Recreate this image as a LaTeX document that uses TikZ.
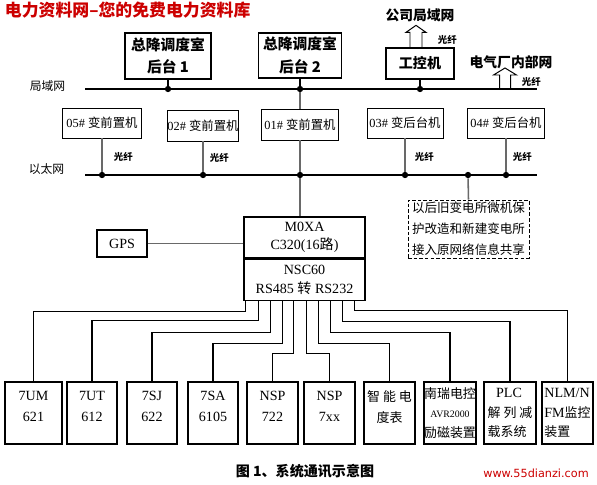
\documentclass[tikz,border=0pt]{standalone}
\usepackage{fontspec}
\setmainfont{Liberation Serif}
\newfontfamily\cjk{Noto Sans CJK SC}
\newfontfamily\urlfont{DejaVu Sans}
\usetikzlibrary{arrows.meta,positioning,calc}
\definecolor{sitered}{RGB}{204,0,0}
\definecolor{dropgray}{RGB}{105,105,105}
\newcommand{\pxl}{0.025cm}

\begin{document}
\begin{tikzpicture}[x=0.025cm,y=-0.025cm,node distance=0pt,
  box/.style 2 args={draw,line width=0.9pt,align=center,inner sep=0pt,
        minimum width=#1*\pxl,minimum height=#2*\pxl},
  bus/.style={line width=2pt},
  dot/.style={circle,fill,inner sep=0pt,minimum size=4.5pt},
  drop/.style={draw=dropgray,line width=1.1pt},
  wire/.style={line width=0.75pt},
  hollow/.style={line width=0.7pt,line join=miter},
  fiber/.style={anchor=west,font=\cjk\bfseries\fontsize{6.7}{8}\selectfont},
  netname/.style={font=\cjk\bfseries\fontsize{9.8}{12}\selectfont},
  cn/.style={font=\cjk\fontsize{8.4}{10}\selectfont},
  station/.style={line width=0.7pt,font=\fontsize{8.8}{10}\selectfont}]
  \useasboundingbox (0,0) rectangle (597,485);

  % Header
  \node[anchor=west,text=sitered,font=\cjk\bfseries\fontsize{12}{14}\selectfont]
        (title) at (0,10) {电力资料网–您的免费电力资料库};

  % Dispatch room and industrial PC
  \node[box={86}{46},font=\cjk\bfseries\fontsize{10.5}{16}\selectfont]
        (ht1) at (168,56) {总降调度室\\后台 1};
  \node[box={83}{45},font=\cjk\bfseries\fontsize{10.5}{16}\selectfont]
        (ht2) at (300,55.5) {总降调度室\\后台 2};
  \node[box={68}{31},font=\cjk\bfseries\fontsize{10}{12}\selectfont]
        (ipc) at (420,63.5) {工控机};

  % Uplinks (hollow arrows)
  \draw[hollow] ($(ipc.north)+(-10,0)$) -- ++(0,-15) -- ++(-4,0) -- ++(10,-7)
        -- ++(10,7) -- ++(-4,0) -- ++(0,15);
  \node[netname] (corpnet) at (420,15) {公司局域网};
  \node[fiber] at (433,40) {光纤};

  % LAN bus
  \coordinate (lanW) at (85,89);
  \coordinate (lanE) at (537,89);
  \draw[bus] (lanW) -- (lanE);
  \node[cn] (lanlbl) at (47.5,86) {局域网};
  \node[dot] (lan1) at (ht1.south |- lanW) {};
  \node[dot] (lan2) at (ht2.south |- lanW) {};
  \node[dot] (lan3) at (ipc.south |- lanW) {};
  \draw[line width=1pt] (ht1.south) -- (lan1);
  \draw[line width=1pt] (ht2.south) -- (lan2);
  \draw[line width=1pt] (ipc.south) -- (lan3);

  \coordinate (plantup) at (505,89);
  \draw[hollow] ($(plantup)+(-5.5,0)$) -- ++(0,-14) -- ++(-6,0) -- ++(11.5,-7)
        -- ++(11.5,7) -- ++(-6,0) -- ++(0,14);
  \node[netname] (plantnet) at (511,62) {电气厂内部网};
  \node[fiber] at (517,82) {光纤};

  % Front-end / back-end machines
  \node[box={79}{30},station] (f05) at (102,123) {05\# {\cjk 变前置机}};
  \node[box={71}{31},station] (f02) at (203,125.5) {02\# {\cjk 变前置机}};
  \node[box={77}{31},station] (f01) at (300,124.5) {01\# {\cjk 变前置机}};
  \node[box={76}{30},station] (f03) at (405,123) {03\# {\cjk 变后台机}};
  \node[box={77}{30},station] (f04) at (506,123) {04\# {\cjk 变后台机}};
  \draw[drop] (lan2) -- (f01.north);

  % Ethernet bus
  \coordinate (ethW) at (85,175);
  \coordinate (ethE) at (537,175);
  \draw[bus] (ethW) -- (ethE);
  \node[cn] (ethlbl) at (46.5,169) {以太网};
  \node[dot] (eth1) at (f05.south |- ethW) {};
  \node[dot] (eth2) at (f02.south |- ethW) {};
  \node[dot] (eth3) at (f01.south |- ethW) {};
  \node[dot] (eth4) at (f03.south |- ethW) {};
  \node[dot] (ethS) at (468,175) {};
  \node[dot] (eth5) at (f04.south |- ethW) {};
  \draw[drop] (f05.south) -- (eth1);
  \draw[drop] (f02.south) -- (eth2);
  \draw[drop] (f01.south) -- (eth3);
  \draw[drop] (f03.south) -- (eth4);
  \draw[drop] (f04.south) -- (eth5);
  \node[fiber] at ($(f05.south)!0.5!(eth1)+(7,0)$) {光纤};
  \node[fiber] at ($(f02.south)!0.5!(eth2)+(2,0)$) {光纤};
  \node[fiber] at ($(f03.south)!0.5!(eth4)+(5,0)$) {光纤};
  \node[fiber] at ($(f04.south)!0.5!(eth5)+(2,0)$) {光纤};

  % Future substations (dashed note)
  \node[box={121}{58},dashed,dash pattern=on 2.5pt off 1.5pt,line width=0.7pt,
        font=\cjk\fontsize{8.9}{15}\selectfont]
        (share) at (468.5,229) {以后旧变电所微机保\\护改造和新建变电所\\接入原网络信息共享};
  \draw[drop] (ethS) -- (share.north);

  % Communication server
  \node[box={121}{41},font=\fontsize{10}{13}\selectfont] (moxa) at (304.5,237.5)
        {M0XA\\C320(16{\cjk 路})};
  \node[box={121}{41},font=\fontsize{10}{13}\selectfont,below=of moxa] (nsc)
        {NSC60\\RS485 {\cjk 转} RS232};
  \draw[drop] (eth3) -- (eth3 |- moxa.north);
  \node[box={50}{27},font=\fontsize{10}{12}\selectfont] (gps) at (122,243.5) {GPS};
  \draw[drop,line width=0.8pt] (gps.east) -- (gps.east -| moxa.west);

  % Protection and control devices
  \node[box={57}{62},font=\fontsize{10}{15}\selectfont,text depth=9pt] (b1) at (33.5,413) {7UM\\621};
  \node[box={50}{62},font=\fontsize{10}{15}\selectfont,text depth=9pt] (b2) at (92,413) {7UT\\612};
  \node[box={50}{62},font=\fontsize{10}{15}\selectfont,text depth=9pt] (b3) at (152,413) {7SJ\\622};
  \node[box={50}{62},font=\fontsize{10}{15}\selectfont,text depth=9pt] (b4) at (213,413) {7SA\\6105};
  \node[box={51}{62},font=\fontsize{10}{15}\selectfont,text depth=9pt] (b5) at (272.5,413) {NSP\\722};
  \node[box={51}{62},font=\fontsize{10}{15}\selectfont,text depth=9pt] (b6) at (329.5,413) {NSP\\7xx};
  \node[box={51}{62},font=\cjk\fontsize{9.2}{15}\selectfont,text depth=9pt] (b7) at (389.5,413)
        {智~能~电\\度表};
  \node[box={52}{62},font=\cjk\fontsize{9.2}{14}\selectfont] (b8) at (450,413)
        {南瑞电控\\{\rmfamily\fontsize{7}{14}\selectfont AVR2000}\\励磁装置};
  \node[box={52}{62},font=\cjk\fontsize{9.2}{14}\selectfont,align=left] (b9) at (510,413)
        {\hspace{6pt}{\rmfamily\fontsize{10}{14}\selectfont PLC}\\解~列~减\\载系统};
  \node[box={51}{62},font=\cjk\fontsize{9.2}{14}\selectfont,align=left] (b10) at (567.5,413)
        {{\rmfamily\fontsize{10}{14}\selectfont NLM/N}\\{\rmfamily\fontsize{10}{14}\selectfont FM}监控\\装置};

  % RS232 fan-out
  \draw[wire] ($(nsc.south west)+(2,0)$) -- ++(0,11) -| (b1.north);
  \draw[wire] ($(nsc.south west)+(15,0)$) -- ++(0,20) -| (b2.north);
  \draw[wire] ($(nsc.south west)+(27,0)$) -- ++(0,32) -| (b3.north);
  \draw[wire] ($(nsc.south west)+(39,0)$) -- ++(0,43) -| (b4.north);
  \draw[wire] ($(nsc.south west)+(50,0)$) -- ++(0,53) -| (b5.north);
  \draw[wire] ($(nsc.south west)+(63,0)$) -- ++(0,53) -| (b6.north);
  \draw[wire] ($(nsc.south west)+(75,0)$) -- ++(0,43) -| (b7.north);
  \draw[wire] ($(nsc.south west)+(87,0)$) -- ++(0,32) -| (b8.north);
  \draw[wire] ($(nsc.south west)+(99,0)$) -- ++(0,21) -| (b9.north);
  \draw[wire] ($(nsc.south west)+(111,0)$) -- ++(0,10) -| (b10.north);

  % Footer
  \node[font=\cjk\bfseries\fontsize{10}{12}\selectfont] (caption) at (305,471)
        {图 1、系统通讯示意图};
  \node[text=sitered,font=\urlfont\fontsize{8}{10}\selectfont] (site) at (536,473)
        {www.55dianzi.com};
\end{tikzpicture}
\end{document}
